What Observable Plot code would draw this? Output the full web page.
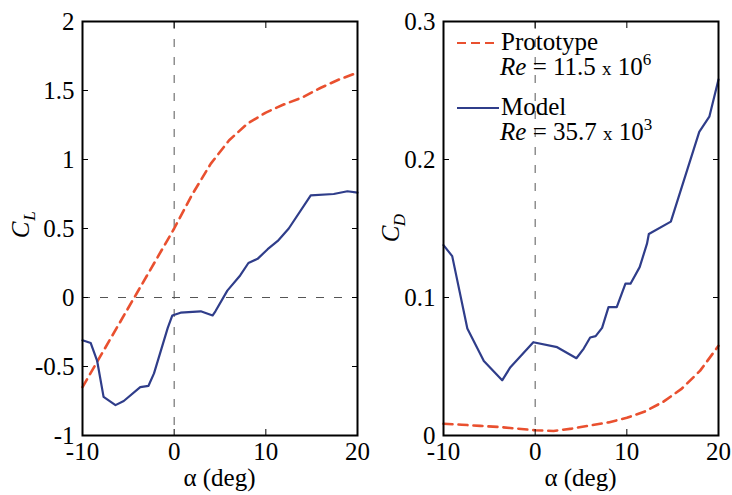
<!DOCTYPE html>
<html><head><meta charset="utf-8">
<script src="https://cdn.jsdelivr.net/npm/d3@7"></script>
<script src="https://cdn.jsdelivr.net/npm/@observablehq/plot@0.6"></script>
<style>
html,body{margin:0;padding:0;background:#fff;}
#wrap{display:flex;width:732px;height:495px;overflow:hidden;}
#wrap svg{display:block;overflow:visible;}
</style></head><body><div id="wrap"></div>
<script>
// ---- data ----
const xTicks = [-10, 0, 10, 20];
const clTicks = [-1, -0.5, 0, 0.5, 1, 1.5, 2];
const cdTicks = [0, 0.1, 0.2, 0.3];

const alphaProtoCL = [-10,-8,-6,-4,-2,0,2,4,6,8,10,12,14,16,18,20];
const clProto = [-0.65,-0.42,-0.19,0.04,0.27,0.50,0.75,0.97,1.14,1.26,1.34,1.40,1.45,1.52,1.58,1.63];

const alphaModelCL = [-10,-9.1,-8.4,-7.7,-6.4,-5.5,-3.7,-2.8,-2.2,-0.7,-0.2,0.7,2.9,4.2,4.5,5.8,7.2,8.1,9.1,10.2,11.3,12.5,14.9,17.4,18.9,20];
const clModel = [-0.31,-0.33,-0.46,-0.72,-0.78,-0.75,-0.65,-0.64,-0.55,-0.22,-0.13,-0.11,-0.10,-0.13,-0.10,0.05,0.16,0.25,0.28,0.35,0.41,0.50,0.74,0.75,0.77,0.76];

const alphaProtoCD = [-10,-8,-6,-4,-2,0,2,4,6,8,10,12,14,16,18,20];
const cdProto = [0.0085,0.0078,0.0070,0.0062,0.0050,0.0038,0.0033,0.0050,0.0073,0.0095,0.0128,0.0175,0.0245,0.034,0.047,0.065];

const alphaModelCD = [-10,-9.05,-7.4,-5.6,-3.6,-2.7,-0.2,2.4,4.5,5.3,6.0,6.6,7.3,8.0,8.9,9.85,10.4,11.4,12.2,12.4,14.8,17.9,19.0,20];
const cdModel = [0.138,0.130,0.0775,0.054,0.040,0.0495,0.0676,0.064,0.056,0.063,0.071,0.072,0.078,0.093,0.093,0.110,0.110,0.122,0.139,0.146,0.155,0.220,0.231,0.258];

const RED = "#e9502f", BLUE = "#2f3d8a";

function zip(xs, ys){ return xs.map((x,i)=>({x, y: ys[i]})); }

function panel({width, marginLeft, marginRight, yDomain, yTicks, proto, model, refY}) {
  return Plot.plot({
    width, height: 495,
    marginLeft, marginRight, marginTop: 21, marginBottom: 60,
    x: {domain: [-10, 20]},
    y: {domain: yDomain},
    style: "font-family: 'Liberation Serif', serif; font-size: 25px; color: black; background: white; overflow: visible;",
    marks: [
      Plot.ruleX([0], {stroke: "#555", strokeWidth: 1, strokeDasharray: "8,10"}),
      refY ? Plot.ruleY([0], {stroke: "#555", strokeWidth: 1, strokeDasharray: "8,10"}) : null,
      Plot.line(proto, {x: "x", y: "y", stroke: RED, strokeWidth: 2.6, strokeDasharray: "9,6"}),
      Plot.line(model, {x: "x", y: "y", stroke: BLUE, strokeWidth: 2.2}),
      Plot.axisX(xTicks, {anchor: "bottom", tickSize: 0, tickPadding: 7, tickFormat: d => String(d), label: null, fontVariant: "normal"}),
      Plot.axisX(xTicks, {anchor: "bottom", tickSize: -6, fill: "none", label: null}),
      Plot.axisX(xTicks, {anchor: "top", tickSize: -6, fill: "none", label: null}),
      Plot.axisY(yTicks, {anchor: "left", tickSize: 0, tickPadding: 8, tickFormat: d => String(d), label: null, fontVariant: "normal"}),
      Plot.axisY(yTicks, {anchor: "left", tickSize: -6, fill: "none", label: null}),
      Plot.axisY(yTicks, {anchor: "right", tickSize: -6, fill: "none", label: null}),
      Plot.frame({stroke: "black", strokeWidth: 2})
    ]
  });
}

const left = panel({width: 370, marginLeft: 82, marginRight: 13, yDomain: [-1, 2], yTicks: clTicks,
  proto: zip(alphaProtoCL, clProto), model: zip(alphaModelCL, clModel), refY: true});
const right = panel({width: 362, marginLeft: 73, marginRight: 14, yDomain: [0, 0.3], yTicks: cdTicks,
  proto: zip(alphaProtoCD, cdProto), model: zip(alphaModelCD, cdModel), refY: false});

function addLabels(svg, yLabelX, yLabelY, sub, xLabelX) {
  const s = d3.select(svg);
  s.append("text")
    .attr("transform", `translate(${yLabelX},${yLabelY}) rotate(-90)`)
    .attr("text-anchor", "middle")
    .attr("font-size", 25).attr("font-style", "italic").attr("fill", "black").text("C");
  s.append("text")
    .attr("transform", `translate(${yLabelX + 6},${yLabelY - 14}) rotate(-90)`)
    .attr("text-anchor", "middle")
    .attr("font-size", 17).attr("font-style", "italic").attr("fill", "black").text(sub);
  s.append("text").attr("x", xLabelX).attr("y", 486).attr("text-anchor", "middle")
    .attr("font-size", 25).attr("fill", "black").text("α (deg)");
}
addLabels(left, 29, 230, "L", 219.5);
addLabels(right, 29, 234, "D", 210.5);

// legend in right panel
(function(){
  const s = d3.select(right);
  const g = s.append("g").attr("font-size", 25).attr("fill", "black").attr("text-anchor", "start");
  const items = [
    {name: "Prototype", color: RED, dash: "9,5", exp: "6", mant: "11.5", y: 43},
    {name: "Model", color: BLUE, dash: null, exp: "3", mant: "35.7", y: 108}
  ];
  for (const it of items) {
    g.append("line").attr("x1", 87).attr("x2", 129).attr("y1", it.y).attr("y2", it.y)
      .attr("stroke", it.color).attr("stroke-width", 2.2).attr("stroke-dasharray", it.dash);
    g.append("text").attr("x", 131).attr("y", it.y + 7).text(it.name);
    const t = g.append("text").attr("x", 130).attr("y", it.y + 32);
    t.append("tspan").attr("font-style", "italic").text("Re");
    t.append("tspan").text(" = " + it.mant + " ");
    t.append("tspan").attr("font-size", 19).text("x");
    t.append("tspan").text(" 10");
    t.append("tspan").attr("font-size", 17).attr("dy", -10).text(it.exp);
  }
})();

for (const svg of [left, right]) {
  svg.setAttribute("font-family", "Liberation Serif");
  d3.select(svg).selectAll("text, tspan").attr("font-family", "Liberation Serif").style("font-family", "'Liberation Serif', serif");
}

document.getElementById("wrap").append(left, right);
</script>
</body></html>
